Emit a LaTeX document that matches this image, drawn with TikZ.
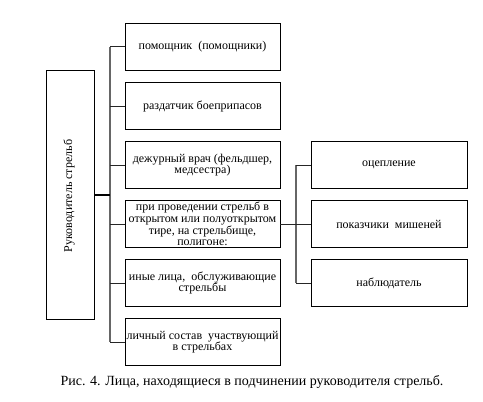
\documentclass[tikz,border=0pt]{standalone}
\usepackage{fontspec}
\setmainfont{Liberation Serif}
\begin{document}
\begin{tikzpicture}[x=1pt,y=-1pt,
  box/.style={draw=black,line width=0.9pt,minimum width=155pt,minimum height=47pt,inner sep=0pt,align=center,font=\fontsize{12}{11.6}\selectfont},
  conn/.style={draw=black!85,line width=0.8pt},
  bus/.style={draw=black!60,line width=1.4pt}]
\useasboundingbox (0,0) rectangle (483,402);
\node[draw=black,line width=0.9pt,minimum width=48pt,minimum height=249pt,inner sep=0pt] (head) at (70,194.5) {};
\node[rotate=90,font=\fontsize{12}{12}\selectfont] (headtext) at (69,196) {Руководитель стрельб};
\node[box] (m1) at (202.5,46.5) {помощник \ (помощники)};
\node[box] (m2) at (202.5,106) {раздатчик боеприпасов};
\node[box] (m3) at (202.5,165) {дежурный врач (фельдшер,\\медсестра)};
\node[box] (m4) at (202.5,224) {при проведении стрельб в\\открытом или полуоткрытом\\тире, на стрельбище,\\полигоне:};
\node[box] (m5) at (202.5,283) {иные лица, \ обслуживающие\\стрельбы};
\node[box] (m6) at (202.5,342) {личный состав \ участвующий\\в стрельбах};
\node[box,minimum width=156pt] (r1) at (389,165) {оцепление};
\node[box,minimum width=156pt] (r2) at (389,224) {показчики \ мишеней};
\node[box,minimum width=156pt] (r3) at (389,283) {наблюдатель};
\coordinate (bt) at (110,46.5);
\coordinate (bb) at (110,342);
\coordinate (rt) at (296,165);
\coordinate (rb) at (296,283);
\draw[bus] (bt) -- (bb);
\draw[bus] (rt) -- (rb);
\foreach \n in {m1,m2,m3,m4,m5,m6}{\draw[conn] (\n.west) -- (bt |- \n.west);}
\foreach \n in {r1,r2,r3}{\draw[conn] (\n.west) -- (rt |- \n.west);}
\draw[conn] (m4.east) -- (rt |- m4.east);
\draw[black,line width=1.8pt] (head.east |- 0,195) -- (110,195);
\node[font=\fontsize{14}{16}\selectfont,inner sep=0pt] (cap) at (252,382) {Рис. 4. Лица, находящиеся в подчинении руководителя стрельб.};
\end{tikzpicture}
\end{document}
